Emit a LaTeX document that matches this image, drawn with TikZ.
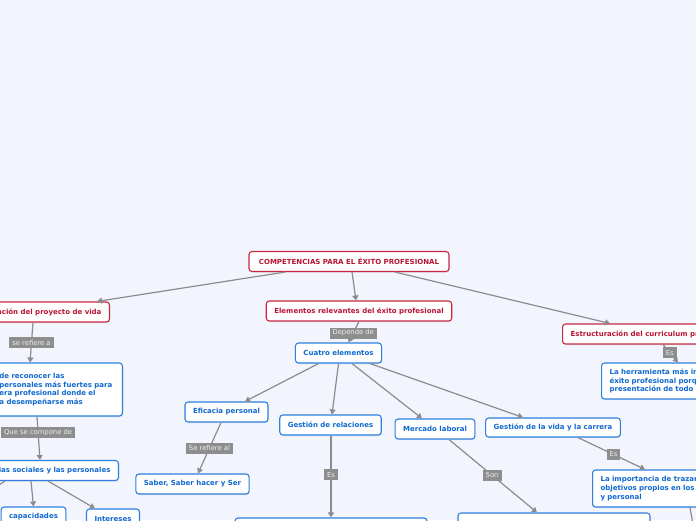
\documentclass[tikz,border=0pt]{standalone}
\usepackage{fontspec}
\setmainfont{DejaVu Sans}
\usetikzlibrary{arrows.meta,shadows}
\definecolor{bgblue}{HTML}{F2F5FD}
\definecolor{redline}{HTML}{C8283F}
\definecolor{redtext}{HTML}{B81432}
\definecolor{blueline}{HTML}{2E7FE0}
\definecolor{bluetext}{HTML}{1068D0}
\definecolor{edgegray}{HTML}{8C8C8C}
\definecolor{lblgray}{HTML}{8E8E8E}
\definecolor{lbltext}{HTML}{EEEEEE}
\newcommand{\boxfont}{\fontsize{7}{8.6}\selectfont\bfseries}
\newcommand{\lblfont}{\fontsize{6.8}{7}\selectfont}
\tikzset{
    topic/.style={fill=white, rounded corners=3pt, line width=1.1pt,
    	minimum height=20pt, inner xsep=8pt, inner ysep=0pt, font=\boxfont,
    	drop shadow={shadow xshift=0.6pt, shadow yshift=-1.2pt, opacity=0.15}},
    redbox/.style={topic, draw=redline, text=redtext},
    bluebox/.style={topic, draw=blueline, text=bluetext},
    lbl/.style={fill=lblgray, text=lbltext, font=\lblfont, inner xsep=3pt,
    	inner ysep=0pt, minimum height=11pt},
    link/.style={draw=edgegray, line width=1.2pt, -{Triangle[width=6pt,length=5pt]}}
}

\begin{document}
\begin{tikzpicture}[x=1pt, y=-1pt]
	\useasboundingbox (0,0) rectangle (696,520);
	\fill[bgblue] (0,0) rectangle (696,520);

	\node (1) [redbox, minimum width=200pt] at (349, 261.5) {COMPETENCIAS PARA EL ÉXITO PROFESIONAL};
	\node (2) [redbox, anchor=east] at (110, 312) {Planificación del proyecto de vida};
	\node (3) [redbox, minimum width=184pt] at (359, 311) {Elementos relevantes del éxito profesional};
	\node (4) [redbox, anchor=west] at (562, 334) {Estructuración del curriculum profesional};
	\node (5) [bluebox, minimum width=85pt] at (338.5, 353) {Cuatro elementos};
	\node (6) [bluebox, anchor=east, text width=118pt, align=left, inner xsep=5pt,
		minimum height=53pt] at (123, 389.5)
		{de reconocer las\\personales más fuertes para\\era profesional donde el\\a desempeñarse más};
	\node (7) [bluebox, anchor=east] at (119, 470.5) {Competencias sociales y las personales};
	\node (8) [bluebox, minimum width=63pt] at (33.5, 517) {capacidades};
	\node (9) [bluebox, minimum width=52pt] at (113, 519) {Intereses};
	\node (10) [bluebox, minimum width=83pt] at (226.5, 412) {Eficacia personal};
	\node (11) [bluebox, minimum width=113pt] at (192.5, 484) {Saber, Saber hacer y Ser};
	\node (12) [bluebox, minimum width=101pt] at (330.5, 425) {Gestión de relaciones};
	\node (13) [bluebox, minimum width=192pt] at (331, 528) {};
	\node (14) [bluebox, minimum width=78pt] at (435, 429) {Mercado laboral};
	\node (15) [bluebox, minimum width=192pt] at (554, 523) {};
	\node (16) [bluebox, minimum width=134pt, minimum height=19pt] at (553, 427.5) {Gestión de la vida y la carrera};
	\node (17) [bluebox, anchor=west, text width=150pt, align=left, minimum height=37pt] at (592, 488.5)
		{La importancia de trazar\\objetivos propios en los ámbitos\\y personal};
	\node (18) [bluebox, anchor=west, text width=150pt, align=left, minimum height=36pt] at (601, 381)
		{La herramienta más importante\\éxito profesional porque\\presentación de todo profesional};
	\coordinate (20) at (-12, 492);
	\coordinate (21) at (694, 530);

	\draw ([xshift=-64pt]1.south) edge[link] ([xshift=-13pt]2.north east);
	\draw ([xshift=3pt]1.south) edge[link] ([xshift=-3pt]3.north);
	\draw ([xshift=46pt]1.south) edge[link] ([xshift=48pt]4.north west);
	\draw (3.south) edge[link] node[lbl, pos=0.55] {Depende de} ([xshift=10pt]5.north);
	\draw ([xshift=-77pt]2.south east) edge[link] node[lbl] {se refiere a} ([xshift=-93pt]6.north east);
	\draw ([xshift=-86pt]6.south east) edge[link] node[lbl, pos=0.37] {Que se compone de} ([xshift=-79pt]7.north east);
	\draw ([xshift=-88pt]7.south east) edge[link] (8.north);
	\draw ([xshift=-71pt]7.south east) edge[link] ([xshift=-18pt]9.north);
	\draw ([xshift=-114pt]7.south east) edge[link] (20);

	\draw ([xshift=-20pt]5.south) edge[link] ([xshift=18.5pt]10.north);
	\draw ([xshift=-5.5pt]10.south) edge[link] node[lbl] {Se refiere al} ([xshift=5.5pt]11.north);
	\draw (5.south) edge[link] ([xshift=1.5pt]12.north);
	\draw ([xshift=0.5pt]12.south) edge[link] node[lbl, pos=0.48] {Es} ([xshift=0pt]13.north);
	\draw ([xshift=13.5pt]5.south) edge[link] ([xshift=-13pt]14.north);
	\draw ([xshift=14pt]14.south) edge[link] node[lbl, pos=0.49] {Son} ([xshift=-17pt]15.north);
	\draw ([xshift=31.5pt]5.south) edge[link] ([xshift=-30pt]16.north);
	\draw ([xshift=25pt]16.south) edge[link] node[lbl, pos=0.53] {Es} ([xshift=53pt]17.north west);
	\draw ([xshift=101pt]4.south west) edge[link] node[lbl, pos=0.45] {Es} ([xshift=77pt]18.north west);
	\draw ([xshift=98pt]17.south west) edge[link] (21);
\end{tikzpicture}
\end{document}
